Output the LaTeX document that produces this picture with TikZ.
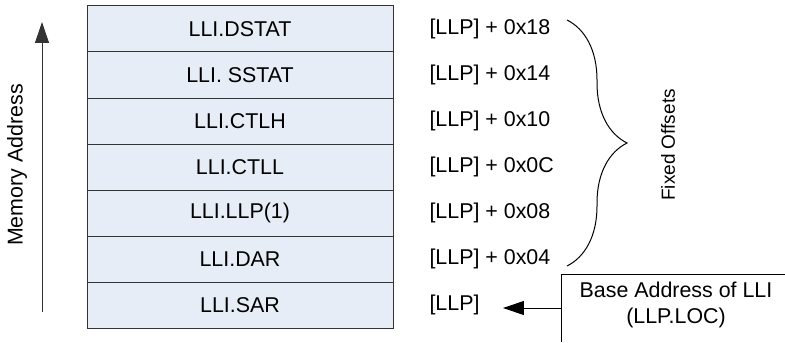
\documentclass[tikz,border=0pt]{standalone}
\usepackage{fontspec}
\setmainfont{Liberation Sans}
\usetikzlibrary{positioning,arrows.meta,decorations.pathreplacing}
\definecolor{cellfill}{RGB}{230,237,247}
\begin{document}
\begin{tikzpicture}[>={Triangle[length=10.5pt,width=7pt]}, x=0.5pt, y=-0.5pt,
		line width=0.5pt, font=\fontsize{10.7}{13}\selectfont]
				\tikzset{cell/.style={draw=black!80, fill=cellfill, minimum width=153pt,
						minimum height=23pt, inner sep=0pt, outer sep=0pt},
					offs/.style={inner sep=0pt}}
				\useasboundingbox (0,0) rectangle (785,342);
				% stack of list item words
				\node[cell] (dstat) at (240,29) {LLI.DSTAT};
				\node[cell, below=0pt of dstat] (sstat) {LLI. SSTAT};
				\node[cell, below=0pt of sstat] (ctlh) {LLI.CTLH};
				\node[cell, below=0pt of ctlh] (ctll) {LLI.CTLL};
				\node[cell, below=0pt of ctll] (llp) {LLI.LLP(1)};
				\node[cell, below=0pt of llp] (dar) {LLI.DAR};
				\node[cell, below=0pt of dar] (sar) {LLI.SAR};
				% offsets
				\node[offs, right=18pt of dstat] (o6) {[LLP] + 0x18};
				\node[offs, right=18pt of sstat] (o5) {[LLP] + 0x14};
				\node[offs, right=18pt of ctlh] (o4) {[LLP] + 0x10};
				\node[offs, right=18pt of ctll] (o3) {[LLP] + 0x0C};
				\node[offs, right=18pt of llp] (o2) {[LLP] + 0x08};
				\node[offs, right=18pt of dar] (o1) {[LLP] + 0x04};
				\node[offs, right=18pt of sar] (o0) {[LLP]};
				% memory address direction
				\coordinate (mlo) at (42,312);
				\coordinate (mhi) at (42,22);
				\draw[->, black!80] (mlo) -- (mhi);
				\node[rotate=90] (mem) at (17,165) {Memory Address};
				% brace
				\coordinate (btop) at (567,20);
				\coordinate (bbot) at (567,266);
				\draw[decorate, decoration={brace, amplitude=30pt}] (btop) -- (bbot);
				\node[rotate=90, font=\fontsize{9.5}{12}\selectfont] (fixed) at (668,145) {Fixed Offsets};
				% base address
				\draw (561,342) |- (785,274);
				\node[align=center, font=\fontsize{10.7}{13}\selectfont] (base) at (676,305) {Base Address of LLI\\(LLP.LOC)};
				\coordinate (bl) at (561,308);
				\draw[->] (bl) -- ([xshift=11.5pt]o0.east |- bl);
\end{tikzpicture}
\end{document}
